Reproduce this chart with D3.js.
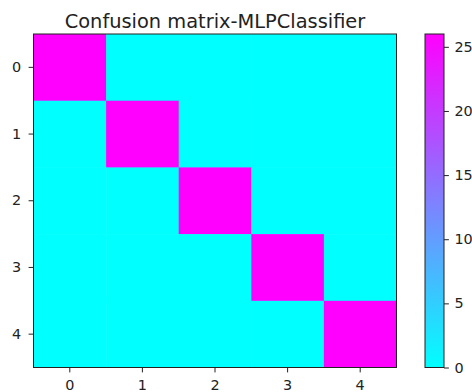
<!DOCTYPE html>
<html><head><meta charset="utf-8">
<script src="https://cdn.jsdelivr.net/npm/d3@7/dist/d3.min.js"></script>
<style>body{margin:0;background:#fff}svg{display:block}text{font-family:"DejaVu Sans",sans-serif;fill:#222}</style>
</head><body>
<script>
const classes = ["0","1","2","3","4"];
const matrix = [
  [26,0,0,0,0],
  [0,26,0,0,0],
  [0,0,26,0,0],
  [0,0,0,26,0],
  [0,0,0,0,26]
];
const cbTicks = [0,5,10,15,20,25];
const vmin = 0, vmax = 26;
const title = "Confusion matrix-MLPClassifier";

const W=472,H=392;
const svg=d3.select("body").append("svg").attr("width",W).attr("height",H);
const L=33.5,R=396.5,T=34,B=367.5;
const x=d3.scaleBand().domain(classes).range([L,R]);
const y=d3.scaleBand().domain(classes).range([T,B]);
const cool=t=>d3.rgb(255*t,255*(1-t),255);
const color=v=>cool((v-vmin)/(vmax-vmin));

const cells=[];
matrix.forEach((row,i)=>row.forEach((v,j)=>cells.push({i,j,v})));
svg.append("g").selectAll("rect").data(cells).join("rect")
  .attr("x",d=>x(classes[d.j])).attr("y",d=>y(classes[d.i]))
  .attr("width",x.bandwidth()+0.5).attr("height",y.bandwidth()+0.5)
  .attr("fill",d=>color(d.v));
svg.append("rect").attr("x",L).attr("y",T).attr("width",R-L).attr("height",B-T)
  .attr("fill","none").attr("stroke","#222").attr("stroke-width",1);

const fs="14.4px";
const xa=svg.append("g").attr("transform",`translate(0,${B})`).call(d3.axisBottom(x).tickSize(4.9).tickPadding(7));
const ya=svg.append("g").attr("transform",`translate(${L},0)`).call(d3.axisLeft(y).tickSize(4.9).tickPadding(7.5));
[xa,ya].forEach(a=>{a.select(".domain").remove();a.selectAll("line").attr("stroke","#222");a.selectAll("text").attr("font-size",fs).attr("font-family","DejaVu Sans").attr("fill","#222");});

// colorbar
const cx=425,cw=19;
const cy=d3.scaleLinear().domain([vmin,vmax]).range([B,T]);
const defs=svg.append("defs");
const g=defs.append("linearGradient").attr("id","cg").attr("x1",0).attr("y1",1).attr("x2",0).attr("y2",0);
d3.range(0,1.0001,0.1).forEach(t=>g.append("stop").attr("offset",t).attr("stop-color",cool(t)));
svg.append("rect").attr("x",cx).attr("y",T).attr("width",cw).attr("height",B-T).attr("fill","url(#cg)")
  .attr("stroke","#222").attr("stroke-width",1);
const ca=svg.append("g").attr("transform",`translate(${cx+cw},0)`).call(d3.axisRight(cy).tickValues(cbTicks).tickSize(4.9).tickPadding(5.5));
ca.select(".domain").remove();ca.selectAll("line").attr("stroke","#222");
ca.selectAll("text").attr("font-size",fs).attr("font-family","DejaVu Sans").attr("fill","#222");

svg.append("text").attr("x",(L+R)/2).attr("y",27.5).attr("text-anchor","middle").attr("font-size","19.4px").text(title);
</script>
</body></html>
